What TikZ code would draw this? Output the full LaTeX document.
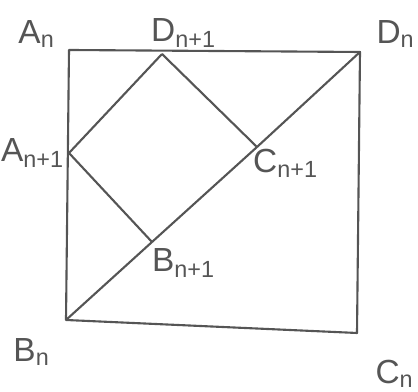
\documentclass[tikz,border=0pt]{standalone}
\usepackage{fontspec}
\setmainfont{Liberation Sans}
\usepackage{xcolor}
\usetikzlibrary{positioning}

\definecolor{pencil}{RGB}{85,85,85}

\begin{document}
\begin{tikzpicture}[
  x=0.01cm, y=-0.01cm,
  edge/.style={draw=pencil, line width=0.6pt, line join=round},
  lbl/.style={font=\fontsize{9.5}{10}\selectfont, text=pencil, inner sep=1pt}
]
\useasboundingbox (0,0) rectangle (418,392);

% Vertices of the outer square
\coordinate (An) at (69,50);
\coordinate (Dn) at (360,52);
\coordinate (Cn) at (357,333);
\coordinate (Bn) at (66,320);

% Vertices of the inner square
\coordinate (Dn1) at (162,54);
\coordinate (An1) at (69,153);
\coordinate (Bn1) at (152,242);
\coordinate (Cn1) at (257,147);

% Labels
\node[lbl] (lAn)  at (37,34)   {A\textsubscript{n}};
\node[lbl] (lDn1) at (184,33)  {D\textsubscript{n+1}};
\node[lbl] (lDn)  at (396,34)  {D\textsubscript{n}};
\node[lbl] (lAn1) at (33,153)  {A\textsubscript{n+1}};
\node[lbl] (lCn1) at (286,163) {C\textsubscript{n+1}};
\node[lbl] (lBn1) at (184,263) {B\textsubscript{n+1}};
\node[lbl] (lBn)  at (32,352)  {B\textsubscript{n}};
\node[lbl] (lCn)  at (395,374) {C\textsubscript{n}};

% Outer square
\draw[edge] (An) -- (Dn) -- (Cn) -- (Bn) -- cycle;

% Diagonal
\draw[edge] (Bn) -- (Bn1) -- (Cn1) -- (Dn);

% Inner square
\draw[edge] (Dn1) -- (Cn1);
\draw[edge] (Dn1) -- (An1) -- (Bn1);

\end{tikzpicture}
\end{document}
